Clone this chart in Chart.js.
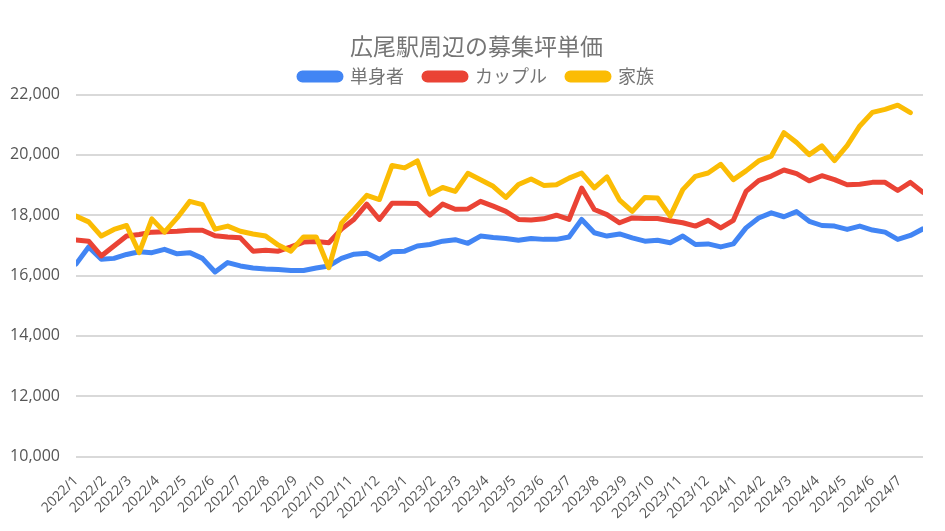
<!DOCTYPE html>
<html>
<head>
<meta charset="utf-8">
<script src="https://cdn.jsdelivr.net/npm/chart.js@4"></script>
<style>
  html, body { margin: 0; padding: 0; background: #fff; }
  #wrap { width: 945px; height: 531px; }
</style>
</head>
<body>
<div id="wrap"><canvas id="lineChart"></canvas></div>
<script>
// month tick labels (data is every 14 days starting 2022/1/1)
const monthLabels = [
  '2022/1', '2022/2', '2022/3', '2022/4', '2022/5', '2022/6', '2022/7', '2022/8', '2022/9', '2022/10', '2022/11', '2022/12',
  '2023/1', '2023/2', '2023/3', '2023/4', '2023/5', '2023/6', '2023/7', '2023/8', '2023/9', '2023/10', '2023/11', '2023/12',
  '2024/1', '2024/2', '2024/3', '2024/4', '2024/5', '2024/6', '2024/7'
];
const seriesNames = ['単身者', 'カップル', '家族'];
const yTicks = [10000, 12000, 14000, 16000, 18000, 20000, 22000];

const single = [
  16380, 16950, 16540, 16570, 16700, 16790, 16760, 16870, 16720, 16760,
  16570, 16120, 16430, 16320, 16250, 16220, 16200, 16170, 16170, 16250,
  16320, 16570, 16710, 16740, 16540, 16790, 16810, 16980, 17030, 17140,
  17190, 17070, 17310, 17260, 17230, 17170, 17230, 17200, 17200, 17280,
  17860, 17420, 17310, 17380, 17250, 17140, 17170, 17090, 17310, 17030,
  17050, 16950, 17050, 17580, 17910, 18080, 17950, 18120, 17800, 17660,
  17640, 17530, 17640, 17510, 17440, 17200, 17330, 17550
];
const couple = [
  17180, 17140, 16650, 16980, 17310, 17360, 17440, 17450, 17470, 17500,
  17500, 17320, 17280, 17250, 16810, 16840, 16810, 16950, 17110, 17130,
  17090, 17540, 17870, 18370, 17860, 18400, 18400, 18390, 18000, 18370,
  18200, 18210, 18460, 18300, 18130, 17860, 17840, 17880, 18000, 17860,
  18900, 18190, 18020, 17750, 17910, 17890, 17890, 17820, 17750, 17640,
  17830, 17580, 17830, 18790, 19150, 19300, 19500, 19380, 19140, 19310,
  19180, 19010, 19030, 19090, 19090, 18820, 19090, 18760
];
const family = [
  17970, 17780, 17310, 17530, 17660, 16760, 17880, 17440, 17910, 18460,
  18350, 17540, 17640, 17470, 17380, 17310, 17010, 16810, 17280, 17280,
  16260, 17740, 18190, 18660, 18520, 19650, 19570, 19800, 18700, 18920,
  18790, 19390, 19180, 18960, 18590, 19020, 19200, 18990, 19010, 19230,
  19400, 18910, 19270, 18500, 18130, 18590, 18570, 17970, 18850, 19290,
  19400, 19690, 19180, 19470, 19800, 19960, 20740, 20410, 20010, 20300,
  19810, 20310, 20960, 21410, 21510, 21650, 21400
];

const colors = ['#4285F4', '#EA4335', '#FBBC04'];
const STEP_DAYS = 14;

// position of each month label in point-index units
function monthPosition(label) {
  const [y, m] = label.split('/').map(Number);
  const days = (Date.UTC(y, m - 1, 1) - Date.UTC(2022, 0, 1)) / 86400000;
  return days / STEP_DAYS;
}
const monthPos = monthLabels.map(monthPosition);

function toPoints(values) {
  return values.map((v, i) => ({ x: i, y: v }));
}

// legend items need a wider gap than the vertical padding allows
const legendFit = {
  id: 'legendFit',
  beforeLayout(chart) {
    const lg = chart.legend;
    if (lg && !lg._patched) {
      const fit = lg.fit;
      lg.fit = function () { fit.call(this); this.height -= 1; };
      lg._patched = true;
    }
  },
  // title + legend are centred a bit right of the canvas middle
  afterLayout(chart) {
    [chart.titleBlock, chart.legend].forEach(b => { if (b) b.left += 30; });
  }
};

const allSeries = [single, couple, family];

const ctx = document.getElementById('lineChart').getContext('2d');
new Chart(ctx, {
  type: 'line',
  data: {
    datasets: allSeries.map((vals, k) => ({
      label: seriesNames[k],
      data: toPoints(vals),
      borderColor: colors[k],
      backgroundColor: colors[k],
      borderWidth: 5,
      borderCapStyle: 'round',
      borderJoinStyle: 'round',
      pointRadius: 0,
      tension: 0,
      order: 2 - k
    }))
  },
  options: {
    responsive: true,
    maintainAspectRatio: false,
    animation: false,
    layout: { padding: { top: 32, right: 22, bottom: 1, left: 0 } },
    plugins: {
      title: {
        display: true,
        text: '広尾駅周辺の募集坪単価',
        color: '#757575',
        font: { family: '"Noto Sans CJK JP", "Open Sans", sans-serif', size: 23, weight: 'normal' },
        padding: { top: 0, bottom: -12 }
      },
      legend: {
        position: 'top',
        labels: {
          sort: (a, b) => a.datasetIndex - b.datasetIndex,
          color: '#757575',
          font: { family: '"Noto Sans CJK JP", "Open Sans", sans-serif', size: 18 },
          boxWidth: 42,
          boxHeight: 7,
          useBorderRadius: true,
          borderRadius: 3.5,
          padding: 20
        }
      },
      tooltip: { enabled: false }
    },
    scales: {
      x: {
        type: 'linear',
        min: 0,
        max: single.length - 1,
        grid: { display: false },
        border: { display: false },
        afterBuildTicks: (scale) => {
          scale.ticks = monthPos.map(v => ({ value: v }));
        },
        ticks: {
          autoSkip: false,
          minRotation: 45,
          maxRotation: 45,
          padding: 8,
          color: '#555',
          font: { family: '"Open Sans", sans-serif', size: 14 },
          callback: (value, index) => monthLabels[index]
        }
      },
      y: {
        min: yTicks[0],
        max: yTicks[yTicks.length - 1],
        afterBuildTicks: (scale) => {
          scale.ticks = yTicks.map(v => ({ value: v }));
        },
        afterFit: (scale) => { scale.width = 76; },
        grid: { color: '#d9d9d9', lineWidth: 2, drawTicks: false },
        border: { display: false },
        ticks: {
          padding: 16,
          color: '#555',
          font: { family: '"Open Sans", sans-serif', size: 16 },
          callback: (value) => value.toLocaleString('en-US')
        }
      }
    }
  },
  plugins: [legendFit]
});
</script>
</body>
</html>
